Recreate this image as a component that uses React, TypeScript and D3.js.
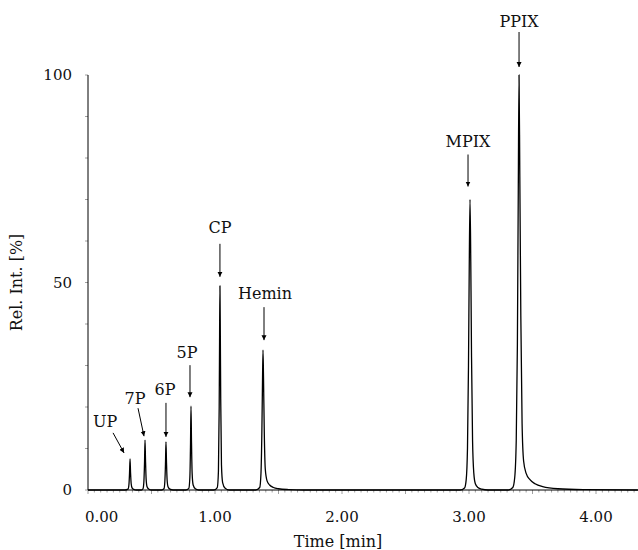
import React from "react";
import * as d3 from "d3";

// ---- data ----
const peakNames = ["UP", "7P", "6P", "5P", "CP", "Hemin", "MPIX", "PPIX"];
const peakTimes = [0.331, 0.449, 0.614, 0.811, 1.039, 1.378, 3.008, 3.394];
const peakHeights = [7.5, 12, 11.6, 20.2, 49.2, 33.7, 70, 100];

const xTickValues = [0, 1, 2, 3, 4];
const xTickLabels = ["0.00", "1.00", "2.00", "3.00", "4.00"];
const yTickValues = [0, 50, 100];
const yTickLabels = ["0", "50", "100"];

// chromatogram trace [time (min), relative intensity (%)]
const trace: [number, number][] = [
  [0.0, 0], [0.29, 0],
  [0.315, 0.2], [0.322, 1.2], [0.327, 4.0], [0.331, 7.5], [0.335, 4.2], [0.34, 1.5], [0.347, 0.5], [0.36, 0.15], [0.38, 0],
  [0.42, 0], [0.433, 0.3], [0.44, 2.0], [0.445, 6.5], [0.449, 12.0], [0.453, 7.0], [0.458, 2.5], [0.465, 0.8], [0.48, 0.2], [0.5, 0],
  [0.58, 0], [0.598, 0.3], [0.605, 2.0], [0.61, 6.2], [0.614, 11.6], [0.618, 6.8], [0.623, 2.4], [0.63, 0.8], [0.645, 0.2], [0.67, 0],
  [0.77, 0], [0.794, 0.4], [0.802, 3.0], [0.807, 10.5], [0.811, 20.2], [0.815, 11.5], [0.82, 4.0], [0.828, 1.2], [0.845, 0.3], [0.87, 0],
  [0.99, 0], [1.018, 0.6], [1.027, 4.5], [1.033, 20], [1.036, 36], [1.039, 49.2], [1.042, 37], [1.045, 22], [1.051, 6], [1.06, 1.8], [1.08, 0.4], [1.11, 0],
  [1.32, 0], [1.352, 0.6], [1.362, 4], [1.369, 14], [1.374, 26], [1.378, 33.7], [1.382, 27], [1.388, 14], [1.396, 5], [1.41, 2.2], [1.43, 1.2], [1.46, 0.6], [1.5, 0.3], [1.58, 0.1], [1.7, 0],
  [2.93, 0], [2.965, 0.5], [2.978, 2.5], [2.988, 10], [2.996, 30], [3.002, 54], [3.008, 70], [3.014, 55], [3.02, 32], [3.028, 12], [3.038, 4], [3.05, 1.5], [3.07, 0.6], [3.1, 0.2], [3.15, 0],
  [3.31, 0], [3.345, 0.6], [3.36, 3], [3.372, 12], [3.381, 35], [3.388, 72], [3.394, 100], [3.4, 76], [3.408, 42], [3.418, 16], [3.43, 7], [3.45, 4], [3.48, 2.5], [3.52, 1.5], [3.58, 0.8], [3.7, 0.3], [3.9, 0.1], [4.33, 0],
];

// ---- layout (label placement relative to peak apex, px) ----
const labelLayout = [
  { lx: -25, ly: -37, ax0: -17, ay0: -26, ax1: -6, ay1: -6 },
  { lx: -10, ly: -42, ax0: -7, ay0: -32, ax1: -1, ay1: -4 },
  { lx: -1, ly: -52, ax0: 0, ay0: -39, ax1: 0, ay1: -5 },
  { lx: -4, ly: -54, ax0: -1, ay0: -41, ax1: -1, ay1: -9 },
  { lx: 0, ly: -58, ax0: 0, ay0: -42, ax1: 0, ay1: -9 },
  { lx: 2, ly: -57, ax0: 1, ay0: -43, ax1: 1, ay1: -10 },
  { lx: -2, ly: -58, ax0: -2, ay0: -45, ax1: -2, ay1: -13 },
  { lx: 0, ly: -54, ax0: 0, ay0: -43, ax1: 0, ay1: -8 },
];

const W = 638;
const H = 550;
const FONT = "'DejaVu Serif', serif";

export default function App() {
  const x = d3.scaleLinear().domain([0, 1]).range([88, 215]);
  const y = d3.scaleLinear().domain([0, 100]).range([490, 75]);
  const xMax = x.invert(W);

  const line = d3
    .line<[number, number]>()
    .x((d) => x(d[0]))
    .y((d) => y(d[1]))
    .curve(d3.curveMonotoneX);

  const minorX = d3.range(0, xMax, 0.05);
  const minorY = d3.range(0, 101, 10);

  return (
    <svg
      width={W}
      height={H}
      style={{ position: "absolute", left: 0, top: 0, background: "#fff" }}
      fontFamily={FONT}
    >
      <defs>
        <marker
          id="ah"
          viewBox="0 0 10 10"
          refX="10"
          refY="5"
          markerWidth="5"
          markerHeight="6"
          orient="auto"
          markerUnits="userSpaceOnUse"
        >
          <path d="M0,0 L10,5 L0,10 Z" fill="#000" />
        </marker>
      </defs>

      {/* x minor ticks */}
      {minorX.map((t, i) => {
        const major = Math.abs(t * 2 - Math.round(t * 2)) < 1e-6;
        return (
          <line
            key={"xm" + i}
            x1={x(t)}
            x2={x(t)}
            y1={y(0)}
            y2={y(0) + (major ? 4 : 2.5)}
            stroke="#888"
            strokeWidth={0.8}
          />
        );
      })}
      {/* y ticks */}
      {minorY.map((v, i) => (
        <line
          key={"ym" + i}
          x1={x(0) - 3}
          x2={x(0)}
          y1={y(v)}
          y2={y(v)}
          stroke="#888"
          strokeWidth={0.8}
        />
      ))}

      {/* axes */}
      <line x1={x(0)} x2={x(0)} y1={y(100)} y2={y(0)} stroke="#000" strokeWidth={1} />
      <line x1={x(0)} x2={W} y1={y(0)} y2={y(0)} stroke="#000" strokeWidth={1} />

      {/* tick labels */}
      {xTickValues.map((v, i) => (
        <text
          key={"xl" + i}
          x={i === 0 ? x(v) - 3 : x(v)}
          y={522}
          textAnchor={i === 0 ? "start" : "middle"}
          fontSize={15}
          fill="#111"
        >
          {xTickLabels[i]}
        </text>
      ))}
      {yTickValues.map((v, i) => (
        <text
          key={"yl" + i}
          x={72}
          y={y(v) + 5}
          textAnchor="end"
          fontSize={15}
          fill="#111"
        >
          {yTickLabels[i]}
        </text>
      ))}

      {/* axis titles */}
      <text x={338} y={547} textAnchor="middle" fontSize={16} fill="#111">
        Time [min]
      </text>
      <text
        transform={`translate(22,${y(50)}) rotate(-90)`}
        textAnchor="middle"
        fontSize={16}
        fill="#111"
      >
        Rel. Int. [%]
      </text>

      {/* trace */}
      <path d={line(trace) || ""} fill="none" stroke="#000" strokeWidth={1.3} strokeLinejoin="round" />

      {/* peak labels + arrows */}
      {peakNames.map((name, i) => {
        const px = x(peakTimes[i]);
        const py = y(peakHeights[i]);
        const L = labelLayout[i];
        return (
          <g key={"pk" + i}>
            <text
              x={px + L.lx}
              y={py + L.ly + 5.5}
              textAnchor="middle"
              fontSize={16}
              fill="#111"
            >
              {name}
            </text>
            <line
              x1={px + L.ax0}
              y1={py + L.ay0}
              x2={px + L.ax1}
              y2={py + L.ay1}
              stroke="#000"
              strokeWidth={1}
              markerEnd="url(#ah)"
            />
          </g>
        );
      })}
    </svg>
  );
}
